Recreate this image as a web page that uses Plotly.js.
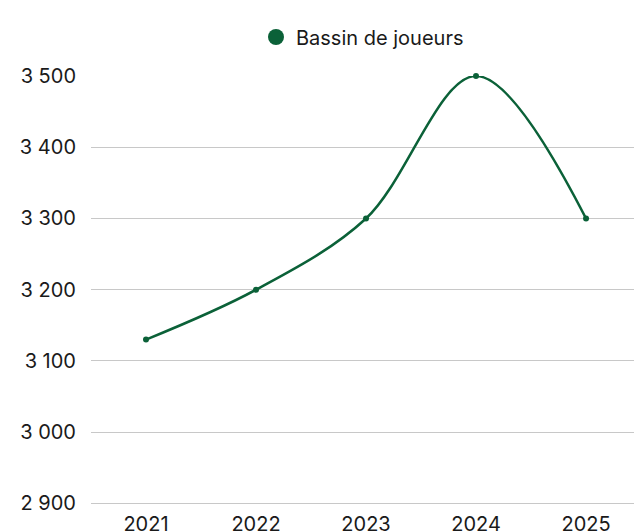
<!DOCTYPE html>
<html>
<head>
<meta charset="utf-8">
<script src="https://cdn.plot.ly/plotly-3.0.1.min.js"></script>
<style>html,body{margin:0;padding:0;background:#fff;}#chart{width:634px;height:531px;}</style>
</head>
<body>
<div id="chart"></div>
<script>
const years = ["2021", "2022", "2023", "2024", "2025"];
const joueurs = [3130, 3200, 3300, 3500, 3300];
const seriesName = "Bassin de joueurs";
const yTicks = [2900, 3000, 3100, 3200, 3300, 3400, 3500];

const green = "#0b6138";
const traces = [
  {
    x: years, y: joueurs, type: "scatter", mode: "lines+markers",
    line: {color: green, width: 2.5, shape: "spline", smoothing: 1},
    marker: {color: green, size: 6},
    showlegend: false, cliponaxis: false, hoverinfo: "skip"
  },
  {
    x: [null], y: [null], type: "scatter", mode: "markers", name: seriesName,
    marker: {color: green, size: 21}, showlegend: true
  }
];
const layout = {
  width: 634, height: 531,
  margin: {l: 91, r: 0, t: 76, b: 24},
  paper_bgcolor: "#fff", plot_bgcolor: "#fff",
  separators: ", ",
  font: {family: "Inter, 'Noto Sans', sans-serif", size: 20, color: "#1a1a1a"},
  showlegend: true,
  legend: {orientation: "h", x: 0.5, xanchor: "center", y: 1.0905, yanchor: "middle",
           font: {size: 20, color: "#1a1a1a"}, itemsizing: "trace"},
  xaxis: {type: "category", range: [-0.5, 4.436], showgrid: false, zeroline: false,
          showline: false, ticks: "", ticklabelstandoff: 3, fixedrange: true},
  yaxis: {range: [2895, 3500], tickvals: yTicks, tickformat: ",d", showgrid: true,
          gridcolor: "#c8c8c8", gridwidth: 1, zeroline: false, showline: false,
          ticks: "", ticklabelstandoff: 14, fixedrange: true}
};
Plotly.newPlot("chart", traces, layout, {displayModeBar: false, staticPlot: true});
</script>
</body>
</html>
